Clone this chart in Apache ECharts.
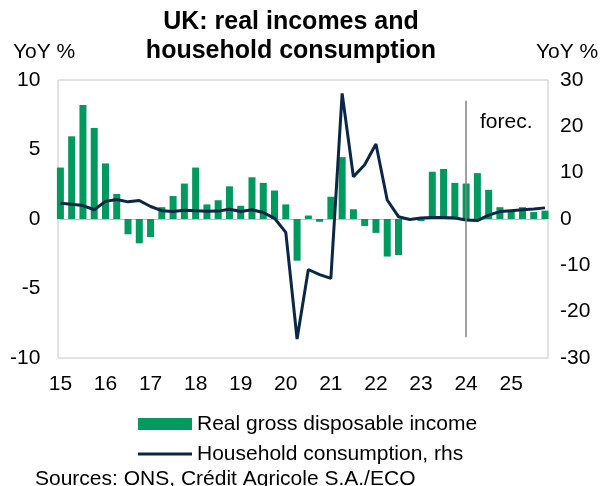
<!DOCTYPE html>
<html>
<head>
<meta charset="utf-8">
<script src="https://cdn.jsdelivr.net/npm/echarts@6/dist/echarts.min.js"></script>
<style>html,body{margin:0;padding:0;background:#fff;}#c{width:603px;height:486px;}</style>
</head>
<body>
<div id="c"></div>
<script>
const years = ['15','16','17','18','19','20','21','22','23','24','25'];
const quarters = [];
years.forEach(y => { for (let q = 1; q <= 4; q++) quarters.push(y + 'Q' + q); });

const incomeValues = [
  3.7, 5.95, 8.2, 6.55,
  4.0, 1.8, -1.1, -1.75,
  -1.3, 0.85, 1.65, 2.55,
  3.7, 1.05, 1.35, 2.35,
  0.95, 3.0, 2.6, 2.05,
  1.05, -3.0, 0.25, -0.2,
  1.6, 4.45, 0.7, -0.5,
  -1.0, -2.7, -2.6, 0.05,
  -0.15, 3.4, 3.6, 2.6,
  2.55, 3.3, 2.1, 0.85,
  0.55, 0.85, 0.5, 0.6
];
const consumptionValues = [
  3.4, 3.2, 2.9, 2.0,
  3.8, 4.2, 3.7, 4.0,
  2.7, 1.8, 1.6, 1.9,
  1.8, 1.65, 1.7, 2.1,
  1.6, 2.0, 1.4, 0.15,
  -2.9, -25.9, -10.9, -12.0,
  -12.8, 27.1, 9.1, 11.7,
  16.2, 4.1, 0.5, -0.1,
  0.2, 0.3, 0.35, 0.2,
  -0.2, -0.35, 0.85, 1.6,
  1.8, 2.0, 2.15, 2.4
];
const forecastStart = 35.5; // between 23Q4 and 24Q1

const GREEN = '#009a5e';
const NAVY = '#0b2746';
const FONT = '"Liberation Sans", Arial, sans-serif';
const FS = 21;

const chart = echarts.init(document.getElementById('c'), null, {renderer: 'canvas'});
chart.setOption({
  animation: false,
  textStyle: {fontFamily: FONT, color: '#000'},
  title: [{
    text: 'UK: real incomes and\nhousehold consumption',
    left: 291, top: 8, textAlign: 'center', padding: 0,
    textStyle: {fontFamily: FONT, fontSize: 25, fontWeight: 'bold', color: '#000', lineHeight: 29}
  }, {
    text: 'YoY %', left: 13, top: 41, padding: 0,
    textStyle: {fontFamily: FONT, fontSize: FS, fontWeight: 'normal', color: '#000', lineHeight: 22}
  }, {
    text: 'YoY %', left: 536, top: 41, padding: 0,
    textStyle: {fontFamily: FONT, fontSize: FS, fontWeight: 'normal', color: '#000', lineHeight: 22}
  }, {
    text: 'Sources: ONS, Crédit Agricole S.A./ECO', left: 35, top: 468, padding: 0,
    textStyle: {fontFamily: FONT, fontSize: FS, fontWeight: 'normal', color: '#000', lineHeight: 22}
  }],
  legend: {
    orient: 'vertical', left: 138, top: 413, itemGap: 8, padding: 0,
    itemWidth: 54, itemHeight: 12, symbolKeepAspect: true,
    textStyle: {fontFamily: FONT, fontSize: FS, color: '#000', lineHeight: 22},
    data: [
      {name: 'Real gross disposable income', icon: 'rect'},
      {name: 'Household consumption, rhs', icon: 'path://M0,0L54,0L54,3L0,3Z',
       itemStyle: {color: NAVY, borderWidth: 0}, lineStyle: {width: 0}}
    ]
  },
  grid: [
    {left: 60.4, right: 58, top: 80, bottom: 128, show: false},
    {left: 58, right: 55, top: 80, bottom: 128, show: true, borderColor: '#c6c6c6', borderWidth: 1, backgroundColor: 'transparent'}
  ],
  xAxis: [{
    type: 'category', data: quarters, boundaryGap: false, gridIndex: 0,
    axisLine: {show: true, onZero: true, lineStyle: {color: '#c0c0c0', width: 1}},
    axisTick: {show: false},
    splitLine: {show: false},
    axisLabel: {
      interval: 3, fontSize: FS, color: '#000', fontFamily: FONT,
      margin: 16, formatter: v => v.slice(0, 2)
    }
  }],
  yAxis: [{
    type: 'value', min: -10, max: 10, interval: 5, gridIndex: 0,
    axisLine: {show: false}, axisTick: {show: false}, splitLine: {show: false},
    axisLabel: {fontSize: FS, color: '#000', fontFamily: FONT, margin: 20}
  }, {
    type: 'value', min: -30, max: 30, interval: 10, gridIndex: 0, position: 'right',
    axisLine: {show: false}, axisTick: {show: false}, splitLine: {show: false},
    axisLabel: {fontSize: FS, color: '#000', fontFamily: FONT, margin: 15}
  }],
  series: [{
    name: 'Real gross disposable income', type: 'bar', data: incomeValues,
    xAxisIndex: 0, yAxisIndex: 0, barWidth: 7, clip: false,
    itemStyle: {color: GREEN},
    z: 2,
    markLine: {
      silent: true, symbol: 'none',
      lineStyle: {color: '#808080', width: 1.5, type: 'solid'},
      label: {show: false},
      data: [[{coord: [forecastStart, 8.5]}, {coord: [forecastStart, -8.5]}]]
    }
  }, {
    name: 'Household consumption, rhs', type: 'line', data: consumptionValues,
    xAxisIndex: 0, yAxisIndex: 1, symbol: 'none', clip: false,
    lineStyle: {color: NAVY, width: 3},
    itemStyle: {color: NAVY},
    z: 3
  }],
  graphic: [{
    type: 'text', left: 480, top: 112,
    style: {text: 'forec.', fontSize: FS, fontFamily: FONT, fill: '#000'}
  }]
});
</script>
</body>
</html>
